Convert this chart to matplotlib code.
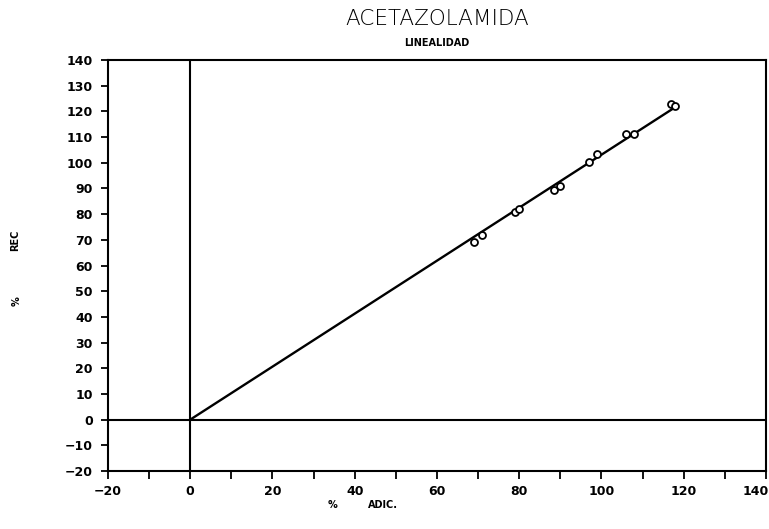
import numpy as np
import matplotlib
matplotlib.use("Agg")
import matplotlib.pyplot as plt
import matplotlib.transforms as mtransforms

x_added = [69, 71, 79, 80, 88.5, 90, 97, 99, 106, 108, 117, 118]
y_recovered = [69, 72, 81, 82, 89.5, 91, 100.4, 103.5, 111, 111, 123, 122]
x_major = list(range(-20, 141, 20))
x_minor = list(range(-20, 141, 10))
y_ticks = list(range(-20, 141, 10))

fig = plt.figure(figsize=(7.69, 5.29), dpi=100)
ax = fig.add_axes([0.1404, 0.1096, 0.8556, 0.777])

xa = np.array(x_added)
ya = np.array(y_recovered)
slope = np.sum(xa * ya) / np.sum(xa * xa)
xl = np.array([0, xa.max()])
ax.plot(xl, slope * xl, color="black", lw=1.7)
ax.plot(xa, ya, "o", mfc="white", mec="black", mew=1.3, ms=5)

ax.axhline(0, color="black", lw=1.5)
ax.axvline(0, color="black", lw=1.5)

ax.set_xlim(-20, 140)
ax.set_ylim(-20, 140)
ax.set_xticks(x_major)
ax.set_xticks(x_minor, minor=True)
ax.set_yticks(y_ticks)
ax.set_xticklabels([str(v).replace("-", "\u2212") for v in x_major])
ax.set_yticklabels([str(v).replace("-", "\u2212") for v in y_ticks])
ax.tick_params(axis="both", which="both", direction="out", width=1.3, labelsize=9)
ax.tick_params(axis="x", which="major", length=6, pad=4)
ax.tick_params(axis="x", which="minor", length=6)
ax.tick_params(axis="y", length=5, pad=6)
for lbl in ax.get_xticklabels() + ax.get_yticklabels():
    lbl.set_fontweight("bold")
last = ax.get_xticklabels()[-1]
last.set_transform(last.get_transform() + mtransforms.ScaledTranslation(-10 / 100, 0, fig.dpi_scale_trans))
for s in ax.spines.values():
    s.set_linewidth(1.5)

fig.text(0.568, 0.965, "ACETAZOLAMIDA", ha="center", va="center", fontsize=15.5,
         family="DejaVu Sans", fontweight="light")
fig.text(0.568, 0.918, "LINEALIDAD", ha="center", va="center", fontsize=7, fontweight="bold")
fig.text(0.020, 0.546, "REC", rotation=90, ha="center", va="center", fontsize=7, fontweight="bold")
fig.text(0.021, 0.43, "%", rotation=90, ha="center", va="center", fontsize=7, fontweight="bold")
fig.text(0.432, 0.045, "%", ha="center", va="center", fontsize=7, fontweight="bold")
fig.text(0.498, 0.045, "ADIC.", ha="center", va="center", fontsize=7, fontweight="bold")

fig.savefig("out.png", dpi=100)
